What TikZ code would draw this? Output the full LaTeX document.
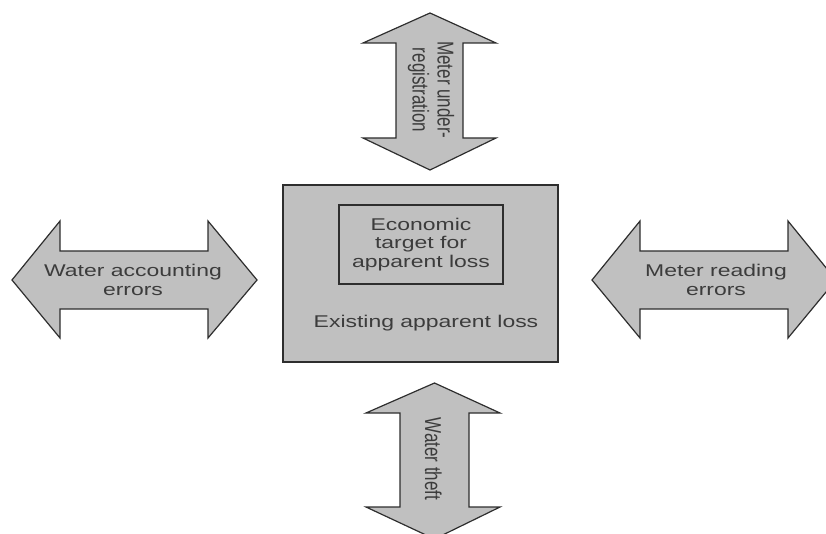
\documentclass[tikz,border=0pt]{standalone}
\usepackage{fontspec}
\setmainfont{Liberation Sans}
\newfontfamily\widefont{Liberation Sans}[FakeStretch=1.35]
\definecolor{lossgray}{HTML}{C0C0C0}
\definecolor{edgegray}{HTML}{2E2E2E}
\definecolor{inkgray}{HTML}{3C3C3C}
\tikzset{
  shapefill/.style={draw=edgegray, fill=lossgray, line width=1.2pt, line join=miter},
  htext/.style={align=center, text=inkgray, inner sep=0pt,
    font=\widefont\fontsize{17}{18.5}\selectfont},
  vtext/.style={rotate=-90, text=inkgray, inner sep=0pt,
    font=\fontsize{17}{18.5}\selectfont}
}
\newcommand\vlabel[1]{\scalebox{1}[1.35]{\begin{tabular}{@{}c@{}}#1\end{tabular}}}
\begin{document}
\begin{tikzpicture}[x=1pt,y=-1pt]
      \useasboundingbox (0,0) rectangle (826,534);
      \clip (0,0) rectangle (826,534);

      % arrows
      \draw[shapefill] (430,13) -- (496,43) -- (463,43) -- (463,138) -- (496,138)
        -- (430,170) -- (363,138) -- (396,138) -- (396,43) -- (363,43) -- cycle;
      \draw[shapefill] (434.5,383) -- (500,413) -- (469,413) -- (469,507) -- (500,507)
        -- (434.5,539) -- (366,507) -- (400,507) -- (400,413) -- (366,413) -- cycle;
      \draw[shapefill] (12,280) -- (60,221) -- (60,251) -- (208,251) -- (208,221)
        -- (257,280) -- (208,338) -- (208,309) -- (60,309) -- (60,338) -- cycle;
      \draw[shapefill] (592,280) -- (640,221) -- (640,251) -- (788,251) -- (788,221)
        -- (836,280) -- (788,338) -- (788,309) -- (640,309) -- (640,338) -- cycle;

      % boxes
      \node[shapefill, minimum width=275pt, minimum height=177pt] (loss) at (420.5,273.5) {};
      \node[shapefill, minimum width=164pt, minimum height=79pt] (target) at (421,244.5) {};

      \node[htext] (econ)  at (target.center) {Economic\\target for\\apparent loss};
      \node[htext] (exist) at (426,323) {Existing apparent loss};
      \node[htext] (wacc)  at (133,280) {Water accounting\\errors};
      \node[htext] (mread) at (716,280) {Meter reading\\errors};
      \node[vtext] (under) at (430,90)  {\vlabel{Meter under-\\registration}};
      \node[vtext] (theft) at (430,459) {\vlabel{Water theft}};
\end{tikzpicture}
\end{document}
